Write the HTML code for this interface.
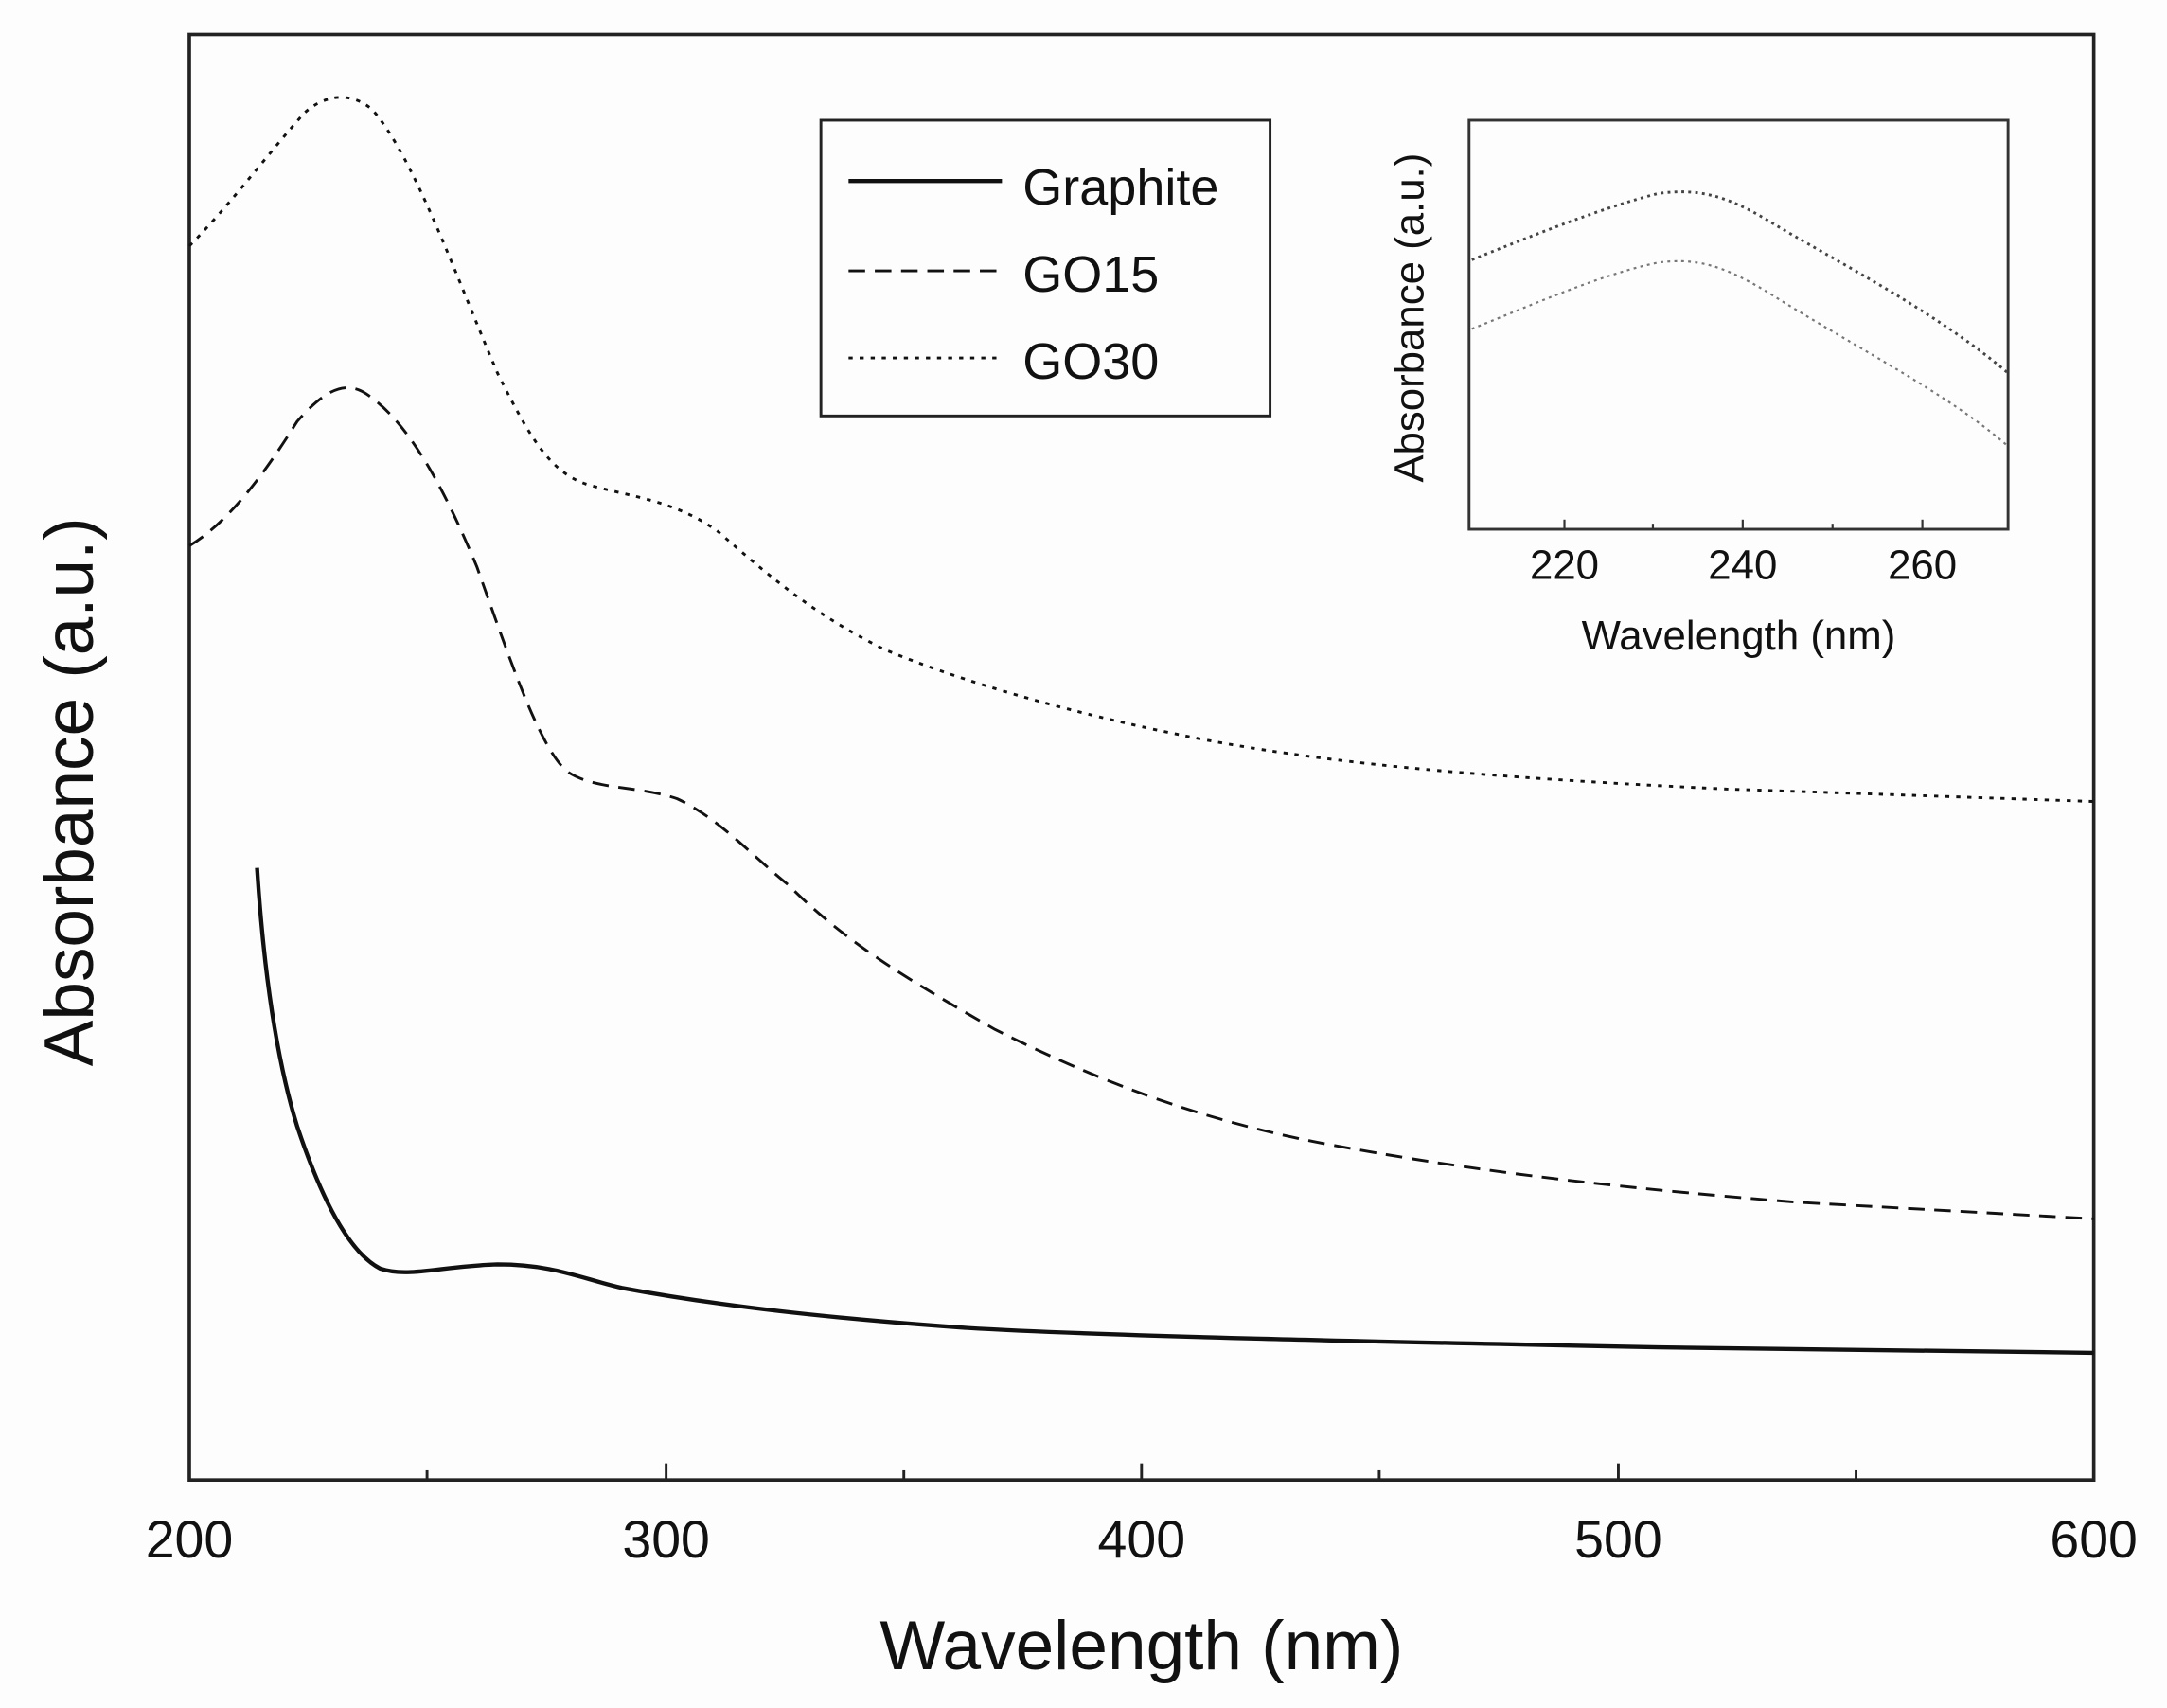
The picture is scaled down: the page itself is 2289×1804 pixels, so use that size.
<!DOCTYPE html>
<html><head><meta charset="utf-8">
<style>
html,body{margin:0;padding:0;background:#fff;}
svg{display:block;}
text{font-family:"Liberation Sans",Arial,sans-serif;fill:#111;}
</style></head>
<body>
<svg width="2289" height="1804" viewBox="0 0 1568 1236" preserveAspectRatio="none" xmlns="http://www.w3.org/2000/svg">
<rect x="0" y="0" width="1568" height="1236" fill="#fdfdfd"/>
<rect x="137" y="25" width="1378" height="1046" fill="none" stroke="#222" stroke-width="2.5"/>
<g stroke="#222" stroke-width="2">
<line x1="137" y1="1071" x2="137" y2="1059"/><line x1="482" y1="1071" x2="482" y2="1059"/><line x1="826" y1="1071" x2="826" y2="1059"/><line x1="1171" y1="1071" x2="1171" y2="1059"/><line x1="1515" y1="1071" x2="1515" y2="1059"/>
<line x1="309" y1="1071" x2="309" y2="1064"/><line x1="654" y1="1071" x2="654" y2="1064"/><line x1="998" y1="1071" x2="998" y2="1064"/><line x1="1343" y1="1071" x2="1343" y2="1064"/>
</g>
<g font-size="38" text-anchor="middle">
<text x="137" y="1127">200</text><text x="482" y="1127">300</text><text x="826" y="1127">400</text><text x="1171" y="1127">500</text><text x="1515" y="1127">600</text>
</g>
<text x="826" y="1208" font-size="50" text-anchor="middle">Wavelength (nm)</text>
<text transform="translate(67,573) rotate(-90)" font-size="50" text-anchor="middle">Absorbance (a.u.)</text>

<g fill="none" stroke="#111" stroke-linejoin="round">
<path stroke-width="3" d="M186,628 C190,690 198,760 215,815 C230,860 250,905 275,918 C295,925 320,916 360,915 C400,915 420,925 450,932 C520,945 600,954 700,961 C800,967 1000,971 1200,975 L1515,979"/>
<path stroke-width="2" stroke-dasharray="12,7" d="M137,395 C165,378 190,345 215,305 C235,282 250,275 265,285 C295,305 320,350 345,410 C370,480 390,540 410,558 C430,572 460,568 490,578 C520,592 545,620 570,640 C610,680 650,705 720,745 C800,785 870,810 950,826 C1050,845 1150,858 1300,870 L1515,882"/>
<path stroke-width="2" stroke-dasharray="3,5" d="M137,178 C165,150 195,110 220,82 C235,68 255,66 270,80 C300,115 330,200 360,270 C385,320 400,345 430,352 C460,360 490,363 520,385 C560,420 590,445 640,470 C700,495 780,517 860,533 C960,553 1080,563 1250,571 L1515,580"/>
</g>

<rect x="594" y="87" width="325" height="214" fill="#fdfdfd" stroke="#222" stroke-width="2"/>
<g fill="none" stroke="#111">
<line x1="614" y1="131" x2="725" y2="131" stroke-width="3"/>
<line x1="614" y1="196" x2="725" y2="196" stroke-width="2" stroke-dasharray="12,7"/>
<line x1="614" y1="259" x2="725" y2="259" stroke-width="2" stroke-dasharray="3,5"/>
</g>
<g font-size="37">
<text x="740" y="148">Graphite</text><text x="740" y="211">GO15</text><text x="740" y="274">GO30</text>
</g>

<rect x="1063" y="87" width="390" height="296" fill="none" stroke="#333" stroke-width="2"/>
<g stroke="#333" stroke-width="1.5">
<line x1="1132" y1="383" x2="1132" y2="376"/><line x1="1261" y1="383" x2="1261" y2="376"/><line x1="1391" y1="383" x2="1391" y2="376"/>
<line x1="1196" y1="383" x2="1196" y2="379"/><line x1="1326" y1="383" x2="1326" y2="379"/>
</g>
<g font-size="30" text-anchor="middle">
<text x="1132" y="419">220</text><text x="1261" y="419">240</text><text x="1391" y="419">260</text>
</g>
<text x="1258" y="470" font-size="30" text-anchor="middle">Wavelength (nm)</text>
<text transform="translate(1030,230) rotate(-90)" font-size="30" text-anchor="middle">Absorbance (a.u.)</text>
<g fill="none" stroke-dasharray="2,3">
<path stroke="#444" stroke-width="2" d="M1065,188 C1110,170 1160,150 1200,140 C1230,136 1250,142 1280,160 C1330,190 1400,225 1453,270"/>
<path stroke="#777" stroke-width="1.5" d="M1065,238 C1110,220 1160,198 1200,190 C1230,186 1250,194 1280,212 C1340,250 1410,285 1453,323"/>
</g>
</svg>
</body></html>
